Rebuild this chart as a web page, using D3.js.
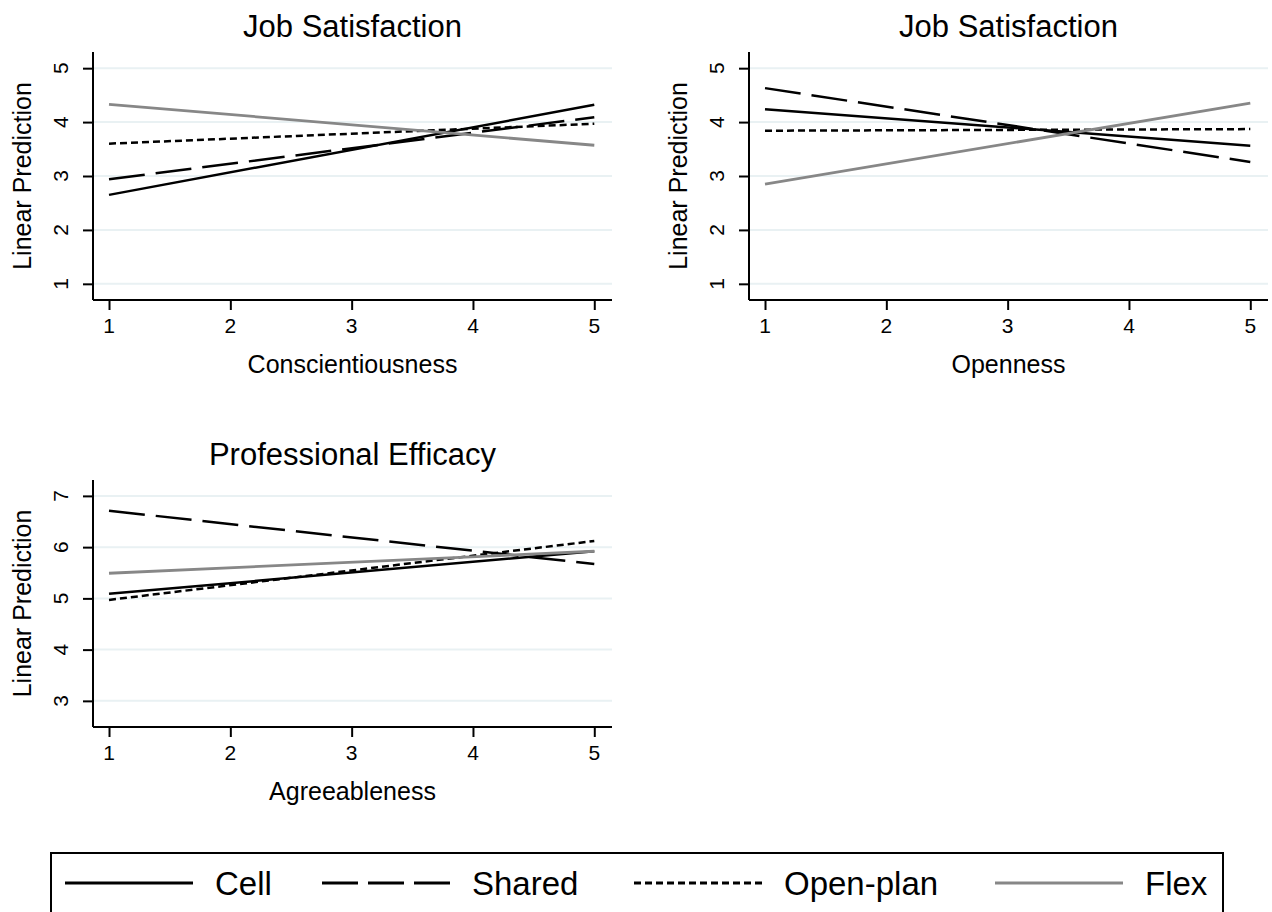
<!DOCTYPE html>
<head>
	<script src="https://d3js.org/d3.v7.min.js"></script>
	<style>
		body { margin: 0; background: #fff; }
		text { font-family: "Liberation Sans", Arial, sans-serif; fill: #000; }
	</style>
</head>
<body>
	<script type="text/javascript">

		// values (fitted lines, ends at x = 1 and x = 5)
		var xValues = [1, 5];
		var xTicks = [1, 2, 3, 4, 5];
		var seriesNames = ["Cell", "Shared", "Open-plan", "Flex"];

		var conscientiousness = [[2.65, 4.32], [2.94, 4.09], [3.60, 3.97], [4.33, 3.57]];
		var openness          = [[4.24, 3.56], [4.63, 3.26], [3.84, 3.87], [2.85, 4.35]];
		var agreeableness     = [[5.09, 5.92], [6.71, 5.67], [4.97, 6.12], [5.49, 5.92]];

		var jobTicks = [1, 2, 3, 4, 5];
		var efficacyTicks = [3, 4, 5, 6, 7];

		var w = 1272;
		var h = 912;
		var svg = d3.select("body")
				.append("svg")
				.attr("width", w)
				.attr("height", h);

		var styles = {
			"Cell":      { color: "#000", dash: null, width: 2.5 },
			"Shared":    { color: "#000", dash: "36,11", width: 2.5 },
			"Open-plan": { color: "#000", dash: "7,4", width: 2.5 },
			"Flex":      { color: "#878787", dash: null, width: 2.8 }
		};

		var plotW = 519;

		function panel(left, top, bottom, yDomain, yTicks, data, title, xLabel) {
			var xScale = d3.scaleLinear().domain([0.868, 5.146]).range([left, left + plotW]);
			var yScale = d3.scaleLinear().domain(yDomain).range([bottom, top]);
			var g = svg.append("g");

			// grid
			g.selectAll("line.grid")
				.data(yTicks)
				.enter()
				.append("line")
				.attr("x1", left)
				.attr("x2", left + plotW)
				.attr("y1", function(d){ return yScale(d); })
				.attr("y2", function(d){ return yScale(d); })
				.attr("stroke", "#e9f1f3")
				.attr("stroke-width", 2);

			// axes (lines and ticks only, labels drawn below)
			var yAxis = g.append("g")
				.attr("transform", "translate(" + left + ",0)")
				.call(d3.axisLeft(yScale).tickValues(yTicks).tickSize(10).tickSizeOuter(0).tickFormat(""));
			yAxis.select(".domain").attr("stroke-width", 2).attr("d", "M0," + top + "V" + bottom);
			yAxis.selectAll(".tick line").attr("stroke-width", 2);

			var xAxis = g.append("g")
				.attr("transform", "translate(0," + bottom + ")")
				.call(d3.axisBottom(xScale).tickValues(xTicks).tickSize(10).tickSizeOuter(0).tickFormat(""));
			xAxis.select(".domain").attr("stroke-width", 2).attr("d", "M" + left + ",0H" + (left + plotW));
			xAxis.selectAll(".tick line").attr("stroke-width", 2);

			g.selectAll("text.ylab")
				.data(yTicks)
				.enter()
				.append("text")
				.attr("class", "ylab")
				.attr("transform", function(d){ return "translate(" + (left - 25.5) + "," + yScale(d) + ") rotate(-90)"; })
				.attr("text-anchor", "middle")
				.style("font-size", "21px")
				.text(function(d){ return d; });

			g.selectAll("text.xlab")
				.data(xTicks)
				.enter()
				.append("text")
				.attr("class", "xlab")
				.attr("x", function(d){ return xScale(d); })
				.attr("y", bottom + 33)
				.attr("text-anchor", "middle")
				.style("font-size", "21px")
				.text(function(d){ return d; });

			// lines
			var line = d3.line()
				.x(function(d, i){ return xScale(xValues[i]); })
				.y(function(d){ return yScale(d); });

			g.selectAll("path.series")
				.data(data)
				.enter()
				.append("path")
				.attr("d", line)
				.attr("fill", "none")
				.attr("stroke", function(d, i){ return styles[seriesNames[i]].color; })
				.attr("stroke-width", function(d, i){ return styles[seriesNames[i]].width; })
				.attr("stroke-dasharray", function(d, i){ return styles[seriesNames[i]].dash; });

			// titles
			var cx = left + plotW / 2;
			g.append("text")
				.attr("x", cx).attr("y", top - 15)
				.attr("text-anchor", "middle")
				.style("font-size", "31px")
				.text(title);
			g.append("text")
				.attr("x", cx).attr("y", bottom + 73)
				.attr("text-anchor", "middle")
				.style("font-size", "25px")
				.text(xLabel);
			g.append("text")
				.attr("transform", "translate(" + (left - 62) + "," + ((top + bottom) / 2) + ") rotate(-90)")
				.attr("text-anchor", "middle")
				.style("font-size", "25px")
				.text("Linear Prediction");
		}

		panel(93, 52, 300, [0.70, 5.30], jobTicks, conscientiousness, "Job Satisfaction", "Conscientiousness");
		panel(749, 52, 300, [0.70, 5.30], jobTicks, openness, "Job Satisfaction", "Openness");
		panel(93, 480, 727, [2.49, 7.31], efficacyTicks, agreeableness, "Professional Efficacy", "Agreeableness");

		// legend
		var legendX = [65, 322, 634, 995];
		var legend = svg.append("g");
		legend.append("rect")
			.attr("x", 51).attr("y", 853)
			.attr("width", 1172).attr("height", 80)
			.attr("fill", "none")
			.attr("stroke", "#000")
			.attr("stroke-width", 2);

		var items = legend.selectAll("g.item")
			.data(seriesNames)
			.enter()
			.append("g")
			.attr("transform", function(d, i){ return "translate(" + legendX[i] + ",0)"; });

		items.append("line")
			.attr("x1", 0).attr("x2", 128)
			.attr("y1", 883).attr("y2", 883)
			.attr("stroke", function(d){ return styles[d].color; })
			.attr("stroke-width", 3)
			.attr("stroke-dasharray", function(d){ return d == "Shared" ? "36,10" : styles[d].dash; });

		items.append("text")
			.attr("x", 150).attr("y", 895)
			.style("font-size", "33px")
			.text(function(d){ return d; });

	</script>
</body>
